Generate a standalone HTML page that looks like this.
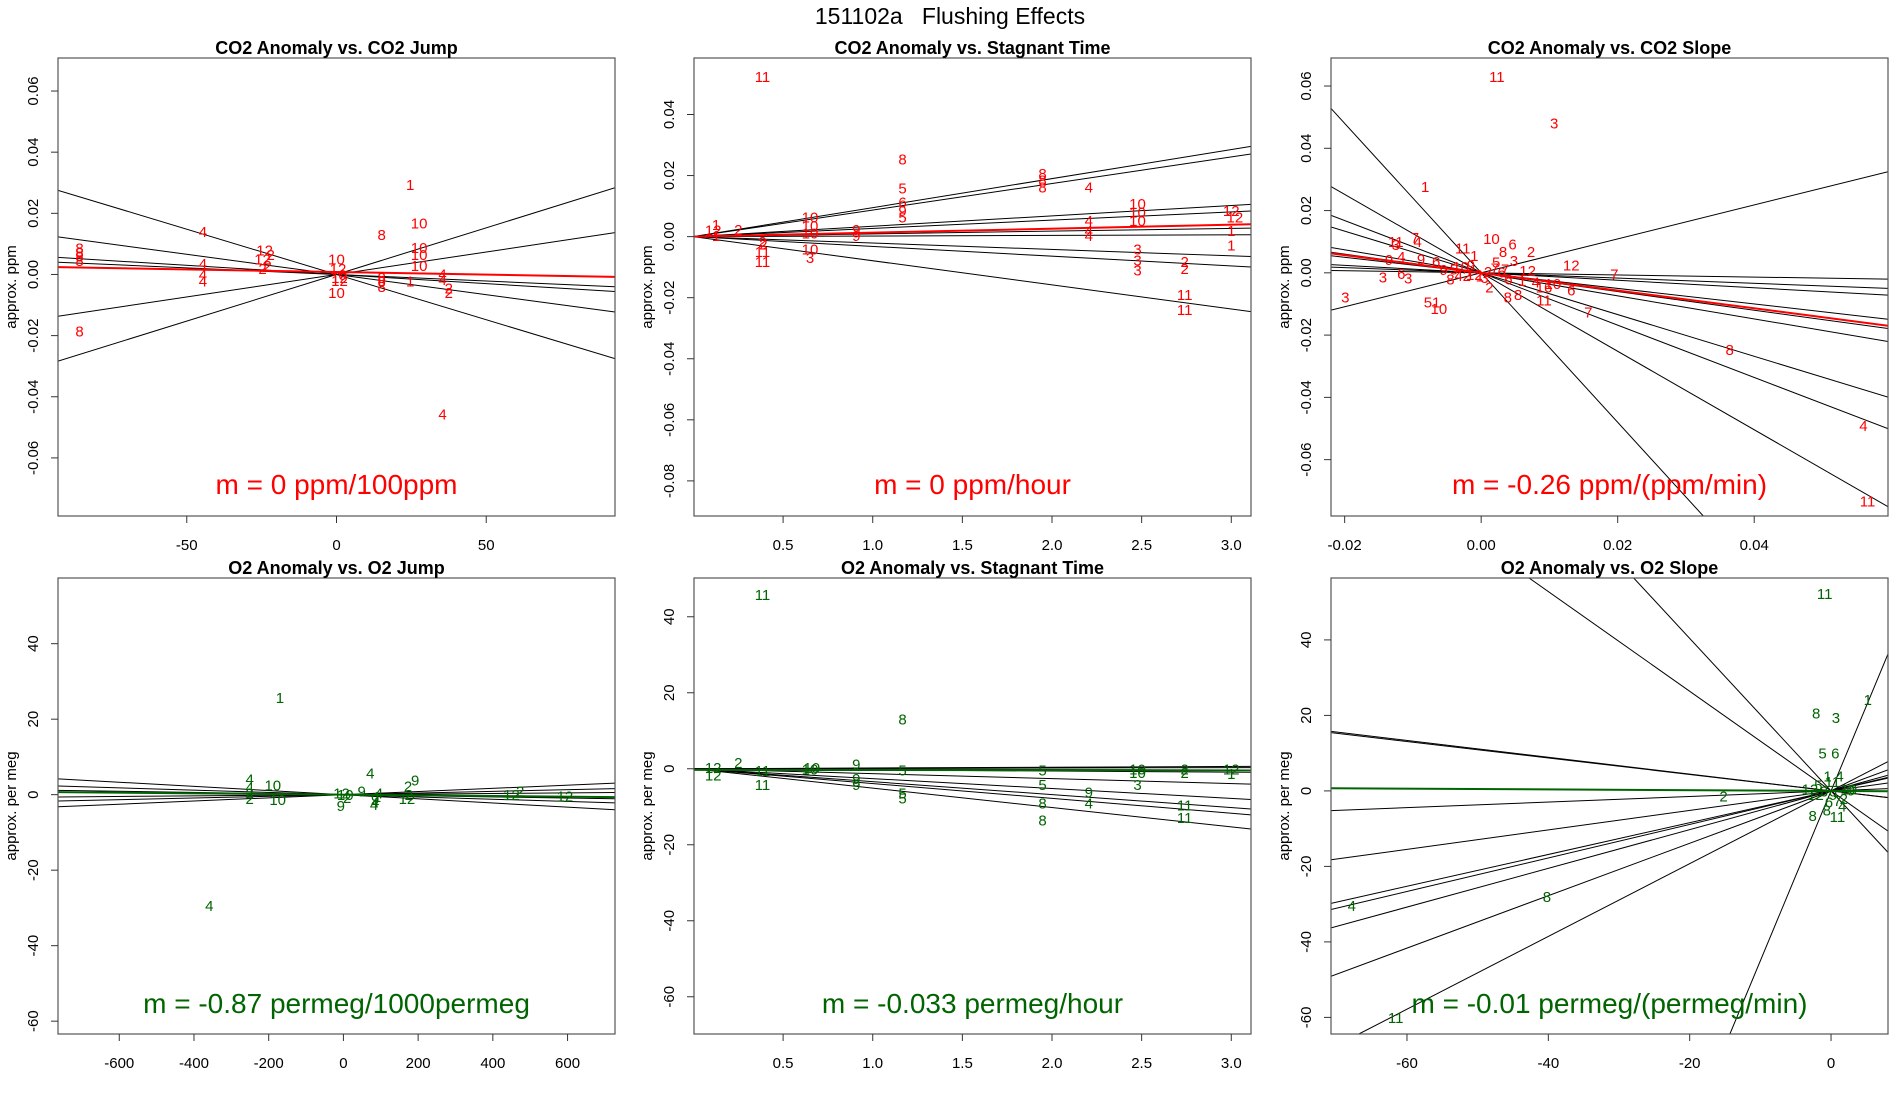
<!DOCTYPE html>
<html><head><meta charset="utf-8"><title>151102a Flushing Effects</title>
<style>
html,body{margin:0;padding:0;background:#fff;width:1900px;height:1100px;overflow:hidden;}
svg{display:block;font-family:"Liberation Sans",Arial,sans-serif;}
</style></head>
<body>
<svg id="chart" width="1900" height="1100" viewBox="0 0 1900 1100" xmlns="http://www.w3.org/2000/svg">
<rect x="0" y="0" width="1900" height="1100" fill="#fff"/>
<text x="950" y="24" text-anchor="middle" font-size="23">151102a&#160;&#160;&#160;Flushing Effects</text>
</svg>
<script>
// ---------- Panel 1: CO2 Anomaly vs CO2 Jump ----------
const p1Labels = ["1","10","8","4","8","8","8","8","4","4","4","12","2","12","2","2","10","12","12","10","8","8","8","10","10","10","1","4","4","2","2","4","8","0","12"];
const p1X = [24.6,27.6,15.1,-44.6,-85.8,-85.8,-85.8,-85.8,-44.6,-44.6,-44.6,-24,-22,-24.7,-23,-24.7,0,0.5,1,0,15.1,15.1,15.1,27.6,27.6,27.6,24.6,35.4,35.4,37.5,37.5,35.4,-85.8,2,1];
const p1Y = [0.0295,0.0168,0.013,0.014,0.0087,0.0072,0.006,0.0045,0.0036,0,-0.0022,0.008,0.0065,0.005,0.003,0.002,0.005,0.002,-0.002,-0.0059,-0.001,-0.002,-0.004,0.0088,0.0065,0.003,-0.0022,0.0001,-0.0016,-0.0045,-0.0059,-0.0457,-0.0185,0,-0.001];
const p1Slopes = [0.000305,0.000147,-0.000043,-0.00006,-0.000132,-0.000296];
const p1FitSlope = [-0.000017];
const p1FitIntercept = [0.0008];
const p1XTicks = [-50,0,50];
const p1XTickLabels = ["-50","0","50"];
const p1YTicks = [-0.06,-0.04,-0.02,0,0.02,0.04,0.06];
const p1YTickLabels = ["-0.06","-0.04","-0.02","0.00","0.02","0.04","0.06"];

// ---------- Panel 2: CO2 Anomaly vs Stagnant Time ----------
const p2Labels = ["11","8","5","6","9","5","8","8","8","4","10","10","10","12","12","1","1","4","4","4","3","3","3","2","2","11","11","10","10","10","10","3","9","9","1","1","12","2","11","11","2","2"];
const p2X = [0.385,1.166,1.166,1.166,1.166,1.166,1.947,1.947,1.947,2.205,2.477,2.477,2.477,3.0,3.02,3.0,3.0,2.205,2.205,2.205,2.477,2.477,2.477,2.74,2.74,2.74,2.74,0.65,0.65,0.65,0.65,0.65,0.908,0.908,0.126,0.126,0.11,0.25,0.385,0.385,0.385,0.39];
const p2Y = [0.0525,0.0255,0.016,0.0113,0.0085,0.0065,0.0206,0.0186,0.0162,0.0162,0.0109,0.0081,0.0053,0.0085,0.0065,0.002,-0.0028,0.0053,0.002,0.0004,-0.004,-0.0077,-0.011,-0.0081,-0.0105,-0.019,-0.0238,0.0065,0.0036,0.0012,-0.004,-0.0069,0.0024,0.0004,0.004,0.0004,0.0022,0.0024,-0.0048,-0.0081,-0.0016,-0.0024];
const p2Slopes = [0.0095,0.0087,0.0034,0.0027,0.0009,0.0002,-0.0021,-0.0032,-0.0079];
const p2FitSlope = [0.0013];
const p2FitIntercept = [0.0];
const p2XTicks = [0.5,1.0,1.5,2.0,2.5,3.0];
const p2XTickLabels = ["0.5","1.0","1.5","2.0","2.5","3.0"];
const p2YTicks = [-0.08,-0.06,-0.04,-0.02,0,0.02,0.04];
const p2YTickLabels = ["-0.08","-0.06","-0.04","-0.02","0.00","0.02","0.04"];

// ---------- Panel 3: CO2 Anomaly vs CO2 Slope ----------
const p3Labels = ["11","3","1","11","4","10","6","8","2","11","1","3","12","7","6","7","11","16","3","3","6","3","5","1","10","9","4","3","7","9","6","4","2","8","8","1","6","8","4","11","10","7","2","12","5","9","3","6","1","4","10","8","7","2","9","12","5"];
const p3X = [0.0023,0.0107,-0.0082,-0.0125,-0.0093,0.0015,0.0046,0.0032,0.0073,-0.0027,-0.001,0.0048,0.0132,0.0195,0.0132,0.0157,0.0092,0.0092,-0.0199,-0.0144,-0.0117,-0.0107,-0.0078,-0.0066,-0.0062,-0.0135,-0.0117,-0.0125,-0.0097,-0.0088,-0.0066,-0.0033,-0.0021,0.0039,0.0054,-0.0002,0.004,0.0364,0.056,0.0566,-0.003,0.002,0.001,-0.001,-0.004,-0.0055,0.0005,0.003,0.006,0.008,0.0105,-0.0045,0.0035,0.0012,-0.0015,0.0068,0.0022];
const p3Y = [0.0631,0.0482,0.0278,0.010,0.010,0.0111,0.0092,0.0069,0.0069,0.008,0.0056,0.004,0.0025,-0.0003,-0.0055,-0.0126,-0.0088,-0.0045,-0.0077,-0.0013,-0.0002,-0.0016,-0.0094,-0.0094,-0.0115,0.0043,0.0052,0.0091,0.0113,0.0045,0.0037,-0.0009,-0.0009,-0.0077,-0.0069,-0.001,-0.002,-0.0247,-0.049,-0.0733,0.002,0.0015,0.0005,-0.0005,0.0012,0.001,-0.0015,0.0002,-0.0025,-0.003,-0.0035,-0.002,0.0012,-0.0045,0.0025,0.0008,0.0035];
const p3Slopes = [0.545,-0.034,-0.084,-0.25,-0.30,-0.37,-0.67,-0.84,-1.26,-2.4,-0.12];
const p3FitSlope = [-0.285];
const p3FitIntercept = [0.0];
const p3XTicks = [-0.02,0,0.02,0.04];
const p3XTickLabels = ["-0.02","0.00","0.02","0.04"];
const p3YTicks = [-0.06,-0.04,-0.02,0,0.02,0.04,0.06];
const p3YTickLabels = ["-0.06","-0.04","-0.02","0.00","0.02","0.04","0.06"];

// ---------- Panel 4: O2 Anomaly vs O2 Jump ----------
const p4Labels = ["1","4","4","10","4","9","2","9","9","4","12","2","12","2","10","2","4","12","10","2","1","9","12","4","4","2"];
const p4X = [-170,-359,-251,-189,72,192,173,49,-7,82,450,473,593,-251,-176,-251,-251,-5,5,10,90,85,170,85,95,175];
const p4Y = [25.8,-29.4,4.2,2.6,5.8,3.9,2.3,1,-2.9,-2.6,0,1,-0.3,-1,-1.3,0.5,2,0.5,0,-0.8,-0.5,-1.2,-1,-2,0.5,0];
const p4Slopes = [-0.0055,0.0042,0.0022,-0.0015,0.0008,-0.003];
const p4FitSlope = [-0.00087];
const p4FitIntercept = [0.0];
const p4XTicks = [-600,-400,-200,0,200,400,600];
const p4XTickLabels = ["-600","-400","-200","0","200","400","600"];
const p4YTicks = [-60,-40,-20,0,20,40];
const p4YTickLabels = ["-60","-40","-20","0","20","40"];

// ---------- Panel 5: O2 Anomaly vs Stagnant Time ----------
const p5Labels = ["11","8","2","12","12","11","11","9","9","9","5","5","5","5","5","8","8","9","4","3","10","10","11","11","2","2","12","1","10","10"];
const p5X = [0.385,1.166,0.25,0.11,0.11,0.385,0.385,0.908,0.908,0.908,1.166,1.166,1.166,1.947,1.947,1.947,1.947,2.205,2.205,2.477,2.477,2.477,2.74,2.74,2.74,2.74,3.0,3.0,0.65,0.66];
const p5Y = [45.8,13.1,1.6,0.3,-1.6,-4.2,-0.5,1.3,-2.5,-4.2,-0.3,-6.4,-7.7,-0.3,-4.2,-9,-13.5,-6.1,-9,-4.2,0,-1,-9.6,-12.8,0,-1,0,-1.3,0,0.3];
const p5Slopes = [0.2,-0.3,-1.3,-2.6,-3.4,-3.9,-5.1,-0.1,0.1];
const p5FitSlope = [-0.033];
const p5FitIntercept = [-0.3];
const p5XTicks = [0.5,1.0,1.5,2.0,2.5,3.0];
const p5XTickLabels = ["0.5","1.0","1.5","2.0","2.5","3.0"];
const p5YTicks = [-60,-40,-20,0,20,40];
const p5YTickLabels = ["-60","-40","-20","0","20","40"];

// ---------- Panel 6: O2 Anomaly vs O2 Slope ----------
const p6Labels = ["11","1","8","3","5","6","2","4","8","11","8","11","12","1","4","10","3","9","2","6","7","5","11","4","12","0","8"];
const p6X = [-0.9,5.2,-2.1,0.7,-1.2,0.6,-15.2,-67.8,-40.2,-61.6,-2.6,0.9,-3,-0.5,1.2,2.5,-1,0.3,1.8,-0.3,0.9,-1.8,0.2,1.6,-2.2,2.8,-0.6];
const p6Y = [52.3,24.2,20.6,19.4,10,10,-1.3,-30.3,-28,-60,-6.5,-6.8,0.5,4,4,0.5,0,-1,-2,-3,-2.5,1.5,2.5,-4,-1,0.2,-5];
const p6Slopes = [-0.223,-0.218,0.074,0.258,0.421,0.444,0.513,0.694,0.964,-1.32,-2.02,4.5];
const p6FitSlope = [-0.01];
const p6FitIntercept = [0.0];
const p6XTicks = [-60,-40,-20,0];
const p6XTickLabels = ["-60","-40","-20","0"];
const p6YTicks = [-60,-40,-20,0,20,40];
const p6YTickLabels = ["-60","-40","-20","0","20","40"];

const NS = "http://www.w3.org/2000/svg";
const svg = document.getElementById("chart");
function mk(tag, attrs, parent){
  const e = document.createElementNS(NS, tag);
  for (const k in attrs) e.setAttribute(k, attrs[k]);
  (parent||svg).appendChild(e);
  return e;
}

// clip line y = b + s*x to the data window
function clipLine(s, b, xlim, ylim){
  let x0 = xlim[0], x1 = xlim[1];
  if (s !== 0){
    const xa = (ylim[0] - b) / s, xb = (ylim[1] - b) / s;
    const lo = Math.min(xa, xb), hi = Math.max(xa, xb);
    x0 = Math.max(x0, lo); x1 = Math.min(x1, hi);
  }
  return [x0, b + s * x0, x1, b + s * x1];
}

function drawPanel(cfg){
  const g = mk("g", {});
  
  
  const L = cfg.box[0], T = cfg.box[1], R = cfg.box[2], B = cfg.box[3];
  const xs = v => L + (v - cfg.xlim[0]) / (cfg.xlim[1] - cfg.xlim[0]) * (R - L);
  const ys = v => B - (v - cfg.ylim[0]) / (cfg.ylim[1] - cfg.ylim[0]) * (B - T);
  const clipId = cfg.name + "-clip";
  const cp = mk("clipPath", {id: clipId}, g);
  mk("rect", {x: L, y: T, width: R - L, height: B - T}, cp);
  const plot = mk("g", {"clip-path": "url(#" + clipId + ")"}, g);

  cfg.slopes.forEach((s, i) => {
    const c = clipLine(s, 0, cfg.xlim, cfg.ylim);
    const ln = mk("line", {x1: xs(c[0]), y1: ys(c[1]), x2: xs(c[2]), y2: ys(c[3]), stroke: "#000", "stroke-width": 1}, plot);
    
    
  });
  cfg.labels.forEach((lab, i) => {
    const t = mk("text", {x: xs(cfg.xv[i]), y: ys(cfg.yv[i]) + 5.5, "text-anchor": "middle", "font-size": 15, fill: cfg.color}, plot);
    t.textContent = lab;
    
    
  });
  const fc = clipLine(cfg.fitSlope[0], cfg.fitIntercept[0], cfg.xlim, cfg.ylim);
  const fl = mk("line", {x1: xs(fc[0]), y1: ys(fc[1]), x2: xs(fc[2]), y2: ys(fc[3]), stroke: cfg.color, "stroke-width": 2}, plot);
  
  

  const bx = mk("rect", {x: L, y: T, width: R - L, height: B - T, fill: "none", stroke: "#555", "stroke-width": 1.2}, g);
  
  

  cfg.xticks.forEach((v, i) => {
    const x = xs(v);
    mk("line", {x1: x, y1: B, x2: x, y2: B + 7, stroke: "#333", "stroke-width": 1}, g);
    const t = mk("text", {x: x, y: B + 34, "text-anchor": "middle", "font-size": 15, fill: "#000"}, g);
    t.textContent = cfg.xtickLabels[i];
    
    
  });
  cfg.yticks.forEach((v, i) => {
    const y = ys(v);
    mk("line", {x1: L - 7, y1: y, x2: L, y2: y, stroke: "#333", "stroke-width": 1}, g);
    const tx = L - 20;
    const t = mk("text", {x: tx, y: y, "text-anchor": "middle", "font-size": 15, fill: "#000", transform: "rotate(-90 " + tx + " " + y + ")"}, g);
    t.textContent = cfg.ytickLabels[i];
    
    
  });
  const yx = L - 42, yy = (T + B) / 2;
  const yt = mk("text", {x: yx, y: yy, "text-anchor": "middle", "font-size": 15, fill: "#000", transform: "rotate(-90 " + yx + " " + yy + ")"}, g);
  yt.textContent = cfg.ylabel;
  
  
  const tt = mk("text", {x: (L + R) / 2, y: T - 4, "text-anchor": "middle", "font-size": 18, "font-weight": "bold", fill: "#000"}, g);
  tt.textContent = cfg.title;
  
  
  const mt = mk("text", {x: (L + R) / 2, y: cfg.mY, "text-anchor": "middle", "font-size": 28, fill: cfg.color}, g);
  mt.textContent = cfg.mtext;
  
  
}

const RED = "#ff0000", GREEN = "#006400";
drawPanel({name:"panel-co2-jump", box:[58,58,615,516], xlim:[-93,93], ylim:[-0.079,0.0708],
  labels:p1Labels, xv:p1X, yv:p1Y, slopes:p1Slopes, fitSlope:p1FitSlope, fitIntercept:p1FitIntercept,
  xticks:p1XTicks, xtickLabels:p1XTickLabels, yticks:p1YTicks, ytickLabels:p1YTickLabels,
  color:RED, title:"CO2 Anomaly vs. CO2 Jump", ylabel:"approx. ppm", mtext:"m = 0 ppm/100ppm", mY:494});
drawPanel({name:"panel-co2-stagnant", box:[694,58,1251,516], xlim:[0.003,3.11], ylim:[-0.0915,0.0585],
  labels:p2Labels, xv:p2X, yv:p2Y, slopes:p2Slopes, fitSlope:p2FitSlope, fitIntercept:p2FitIntercept,
  xticks:p2XTicks, xtickLabels:p2XTickLabels, yticks:p2YTicks, ytickLabels:p2YTickLabels,
  color:RED, title:"CO2 Anomaly vs. Stagnant Time", ylabel:"approx. ppm", mtext:"m = 0 ppm/hour", mY:494});
drawPanel({name:"panel-co2-slope", box:[1331,58,1888,516], xlim:[-0.022,0.0596], ylim:[-0.0781,0.069],
  labels:p3Labels, xv:p3X, yv:p3Y, slopes:p3Slopes, fitSlope:p3FitSlope, fitIntercept:p3FitIntercept,
  xticks:p3XTicks, xtickLabels:p3XTickLabels, yticks:p3YTicks, ytickLabels:p3YTickLabels,
  color:RED, title:"CO2 Anomaly vs. CO2 Slope", ylabel:"approx. ppm", mtext:"m = -0.26 ppm/(ppm/min)", mY:494});
drawPanel({name:"panel-o2-jump", box:[58,578,615,1034], xlim:[-764,727], ylim:[-63.4,57.4],
  labels:p4Labels, xv:p4X, yv:p4Y, slopes:p4Slopes, fitSlope:p4FitSlope, fitIntercept:p4FitIntercept,
  xticks:p4XTicks, xtickLabels:p4XTickLabels, yticks:p4YTicks, ytickLabels:p4YTickLabels,
  color:GREEN, title:"O2 Anomaly vs. O2 Jump", ylabel:"approx. per meg", mtext:"m = -0.87 permeg/1000permeg", mY:1013});
drawPanel({name:"panel-o2-stagnant", box:[694,578,1251,1034], xlim:[0.003,3.11], ylim:[-69.8,50.2],
  labels:p5Labels, xv:p5X, yv:p5Y, slopes:p5Slopes, fitSlope:p5FitSlope, fitIntercept:p5FitIntercept,
  xticks:p5XTicks, xtickLabels:p5XTickLabels, yticks:p5YTicks, ytickLabels:p5YTickLabels,
  color:GREEN, title:"O2 Anomaly vs. Stagnant Time", ylabel:"approx. per meg", mtext:"m = -0.033 permeg/hour", mY:1013});
drawPanel({name:"panel-o2-slope", box:[1331,578,1888,1034], xlim:[-70.75,8.06], ylim:[-64.4,56.4],
  labels:p6Labels, xv:p6X, yv:p6Y, slopes:p6Slopes, fitSlope:p6FitSlope, fitIntercept:p6FitIntercept,
  xticks:p6XTicks, xtickLabels:p6XTickLabels, yticks:p6YTicks, ytickLabels:p6YTickLabels,
  color:GREEN, title:"O2 Anomaly vs. O2 Slope", ylabel:"approx. per meg", mtext:"m = -0.01 permeg/(permeg/min)", mY:1013});
</script>
</body></html>
